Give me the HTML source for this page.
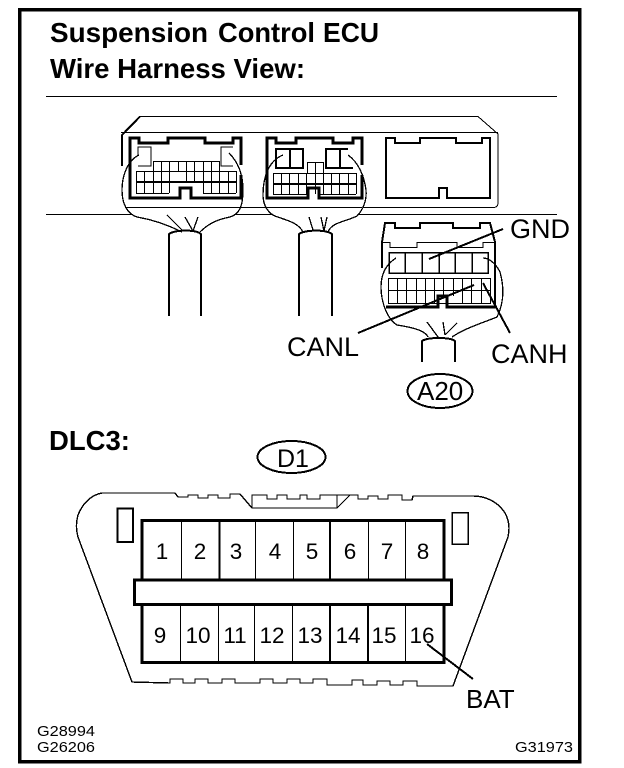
<!DOCTYPE html>
<html><head><meta charset="utf-8"><style>
html,body{margin:0;padding:0;background:#fff}
svg{display:block}
text{font-family:"Liberation Sans",Arial,sans-serif;fill:#000}
path,rect,ellipse{shape-rendering:crispEdges}
.t{fill:none;stroke:#000;stroke-width:1}
.m{fill:none;stroke:#000;stroke-width:2}
.k{fill:none;stroke:#000;stroke-width:3}
.b{fill:#fff;stroke:#000;stroke-width:1.3}
</style></head><body>
<svg width="624" height="768" viewBox="0 0 624 768" xmlns="http://www.w3.org/2000/svg">
<rect x="19.5" y="9.5" width="560" height="752" fill="none" stroke="#000" stroke-width="3.5"/>
<text x="50" y="42" font-size="27.5" font-weight="700" textLength="158" lengthAdjust="spacingAndGlyphs">Suspension</text>
<text x="218" y="42" font-size="27.5" font-weight="700" textLength="97" lengthAdjust="spacingAndGlyphs">Control</text>
<text x="323" y="42" font-size="27.5" font-weight="700" textLength="56" lengthAdjust="spacingAndGlyphs">ECU</text>
<text x="50" y="78" font-size="27.5" font-weight="700" textLength="255" lengthAdjust="spacingAndGlyphs">Wire Harness View:</text>
<path class="t" d="M46 96.5H557M46 214.5H557"/>

<!-- ECU housing -->
<path class="t" d="M122 135L140 116.5H478L498 134V203Q498 207 494 207.5H125M121 132.5H498"/>
<path class="m" d="M122 166V135L140 116.5"/>

<!-- bubbles -->
<path class="b" d="M139 155C128 160 122 175 122 190C122 205 128 214 137 217C155 220 170 226 182 232L200 232C210 222 220 219 230 217C240 214 243 205 243 190C243 175 238 162 229 153Z" style="stroke:none"/>
<path class="b" d="M283 155C270 160 263 175 263 195C263 205 268 213 275 216C285 220 298 222 303 232H328C332 222 345 222 357 216C363 210 367 200 366 190C364 175 358 162 348 155Z" style="stroke:none"/>
<path class="t" d="M125 207.5H240M266 207.5H362"/>
<path class="b" style="fill:none" d="M139 155C128 160 122 175 122 190C122 205 128 214 137 217C155 220 170 226 182 232M200 232C210 222 220 219 230 217C240 214 243 205 243 190C243 175 238 162 229 153"/>
<path class="b" style="fill:none" d="M283 155C270 160 263 175 263 195C263 205 268 213 275 216C285 220 298 222 303 232M328 232C332 222 345 222 357 216C363 210 367 200 366 190C364 175 358 162 348 155"/>
<path class="b" style="fill:none" d="M167 215L183 231M185 217L193 231M198 217L193 231M309 217L313 230M321 217L324 231M327 217L324 231"/>

<!-- cables -->
<path class="m" d="M169 316V234C175 230 195 229 201 234V316M299 316V234C305 230 325 229 332 234V316"/>

<!-- connector 1 -->
<path class="k" d="M130 165V138H139V143H168V138H205V143H233V138H241V165M241 175V198H191V188H180V198H130V165"/>
<path class="t" d="M138 155V147H151V166H138M233 147H221V166H233M153 161.500H219M136 171.500H236M136 193.500H169M203 193.500H236"/>
<path class="t" d="M161.500 161V193M169.500 161V193M178.500 161V171M186.500 161V182M194.500 161V182M203.500 161V193M211.500 161V193M153.500 161V193M219.500 161V193M144.500 171V193M136.500 171V193M228.500 171V193M236.500 171V193"/>
<path class="m" d="M136 182H236"/>

<!-- connector 2 -->
<path class="k" d="M267 165V138H276V143H296V138H333V143H353V138H362V165M362 175V198H319V188H308V198H267V165"/>
<path class="m" d="M283 149H276V168H303V149H283M290 149V168M348 149H326V168H353M340 149V168"/>
<path class="t" d="M307 162.500H323M273 173.500H356M273 194.500H308M319 194.500H356M307.500 162V173M315.500 162V194M323.500 162V173"/>
<path class="t" d="M273.500 173V194M281.500 173V194M289.500 173V194M298.500 173V194M306.500 173V194M323.500 173V194M331.500 173V194M339.500 173V194M348.500 173V194M356.500 173V194"/>
<path class="m" d="M273 184H356"/>

<!-- connector 3 -->
<path class="m" d="M386 138H395V143H420V138H456V143H482V138H490V198H447V188H439V198H386Z"/>

<!-- lower connector -->
<path class="b" style="stroke:none" d="M396 258C385 265 381 275 381 287C381 300 386 318 397 325C410 327 425 330 428 337H452C465 328 485 322 497 317C503 305 505 290 500 272C495 262 488 258 483 258Z"/>
<path class="m" d="M382 268V242L385 223H395V228H420V223H453V228H480V223H490L495 242V307"/>
<path class="k" d="M386 307H438V296H447V307H497"/>
<path class="t" d="M383 242.500H390V247.500H417V242.500H457V247.500H483V242.500H495"/>
<path class="t" style="stroke-width:1.500" d="M389 252.500H488M389 252V273H488V252M405 252V273M422 252V273M439 252V273M455 252V273M472 252V273"/>
<path class="t" d="M388.500 278.500H490.500V303.500H388.500ZM388 290.500H490M397.500 278V303M406.500 278V303M416.500 278V303M425.500 278V303M434.500 278V303M443.500 278V296M453.500 278V296M462.500 278V303M471.500 278V303M481.500 278V303"/>
<path class="b" style="fill:none" d="M396 258C385 265 381 275 381 287C381 300 386 318 397 325C410 327 425 330 428 337M452 337C465 328 485 322 497 317C503 305 505 290 500 272C495 262 488 258 483 258M427 322L438 337M443 322L445 335M457 323L445 335"/>
<path class="m" d="M422 362V341C428 337 450 337 455 341V362"/>

<!-- leaders -->
<path class="m" d="M429 259L503 229M358 333L474 285M483 283L510 333M427 644L473 679"/>

<text x="510" y="238" font-size="27">GND</text>
<text x="287" y="356" font-size="27">CANL</text>
<text x="491" y="363" font-size="27">CANH</text>
<ellipse cx="440" cy="391" rx="32.500" ry="17" fill="none" stroke="#000" stroke-width="2"/>
<text x="417" y="400" font-size="26">A20</text>

<text x="49" y="450" font-size="27.500" font-weight="700">DLC3:</text>
<ellipse cx="291.500" cy="457" rx="34" ry="16" fill="none" stroke="#000" stroke-width="2"/>
<text x="277" y="467" font-size="25">D1</text>

<!-- DLC body -->
<path class="t" style="stroke-width:1.400" d="M132 682L170 683V679H183V683H195V679H208V683H222V679H235V683H260V679H273V683H287V679H300V683H313V679H327V685H352V680H363V685H377V681H390V685H403V681H417V686H453L508 537C510 528 509 520 505 513C498 502 486 496 473 496H413L412 500H402V495H388V499H378V496H368V499H358V495H350L337 508H252L240 494H230V498H218V495H208V498H198V495H188V497H178L175 493H102C90 495 82 505 78 515C76 522 76 530 78 537L132 682Z"/>
<path class="t" d="M252 508V495H267V499H277V495H287V499H300V495H307V499H320V495H350M337 495V508"/>
<rect x="117.500" y="508.500" width="15.500" height="33.500" fill="none" stroke="#000" stroke-width="2"/>
<rect x="452" y="512.500" width="16" height="31.500" fill="none" stroke="#000" stroke-width="1.500"/>

<!-- pin block -->
<path class="k" d="M142 580V520.500H444V581M142 604V662.500H444V606"/>
<rect x="134.500" y="580" width="317" height="24.500" fill="#fff" stroke="#000" stroke-width="3"/>
<path class="t" d="M181.500 521V579M255.500 521V579M293.500 521V579M368.500 521V579M405.500 521V579M180.500 605V661M218.500 605V661M254.500 605V661M292.500 605V661M405.500 605V661"/>
<path class="m" d="M219.500 521V579M330 521V579M330 605V661M368 605V661"/>

<g font-size="22.500" text-anchor="middle">
<text x="162" y="559">1</text><text x="200" y="559">2</text><text x="236" y="559">3</text><text x="275" y="559">4</text><text x="312" y="559">5</text><text x="350" y="559">6</text><text x="387" y="559">7</text><text x="423" y="559">8</text>
<text x="160" y="643">9</text><text x="198" y="643">10</text><text x="235" y="643">11</text><text x="272" y="643">12</text><text x="310" y="643">13</text><text x="348" y="643">14</text><text x="384" y="643">15</text><text x="422" y="643">16</text>
</g>
<text x="466" y="708" font-size="26">BAT</text>
<text x="37" y="736" font-size="14.500" textLength="58" lengthAdjust="spacingAndGlyphs">G28994</text>
<text x="37" y="752" font-size="14.500" textLength="58" lengthAdjust="spacingAndGlyphs">G26206</text>
<text x="515" y="752" font-size="14.500" textLength="58" lengthAdjust="spacingAndGlyphs">G31973</text>
</svg>
</body></html>
